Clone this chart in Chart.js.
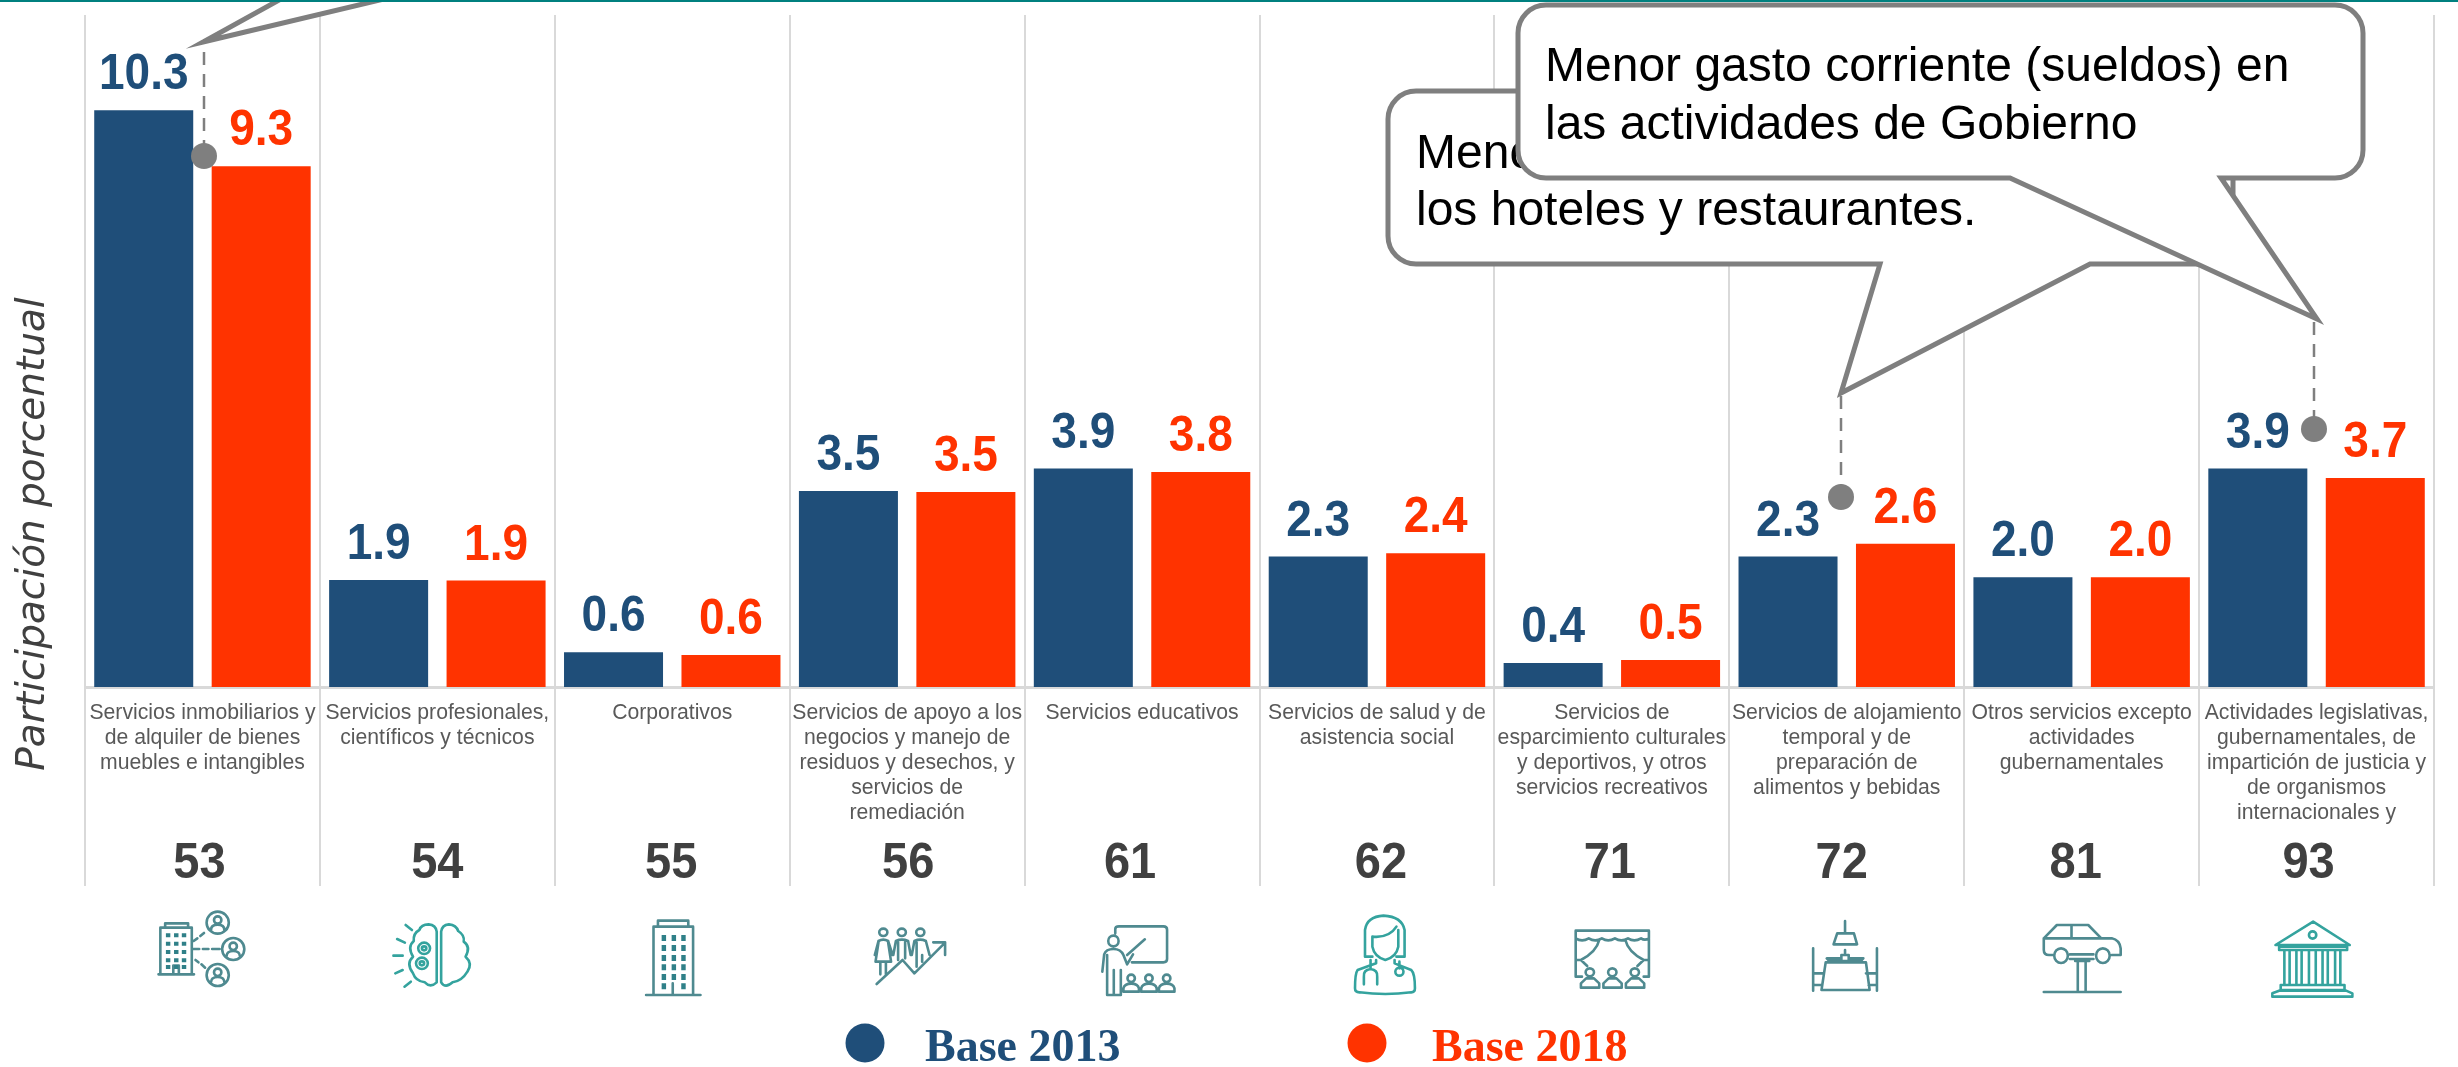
<!DOCTYPE html>
<html><head><meta charset="utf-8">
<style>html,body{margin:0;padding:0;background:#fff;overflow:hidden}#w{width:2458px;height:1067px}</style>
<script src="https://cdn.jsdelivr.net/npm/chart.js@4/dist/chart.umd.min.js"></script>
</head><body><div id="w"><canvas id="c"></canvas></div>
<script>
const categories = [
 ["Servicios inmobiliarios y","de alquiler de bienes","muebles e intangibles"],
 ["Servicios profesionales,","científicos y técnicos"],
 ["Corporativos"],
 ["Servicios de apoyo a los","negocios y manejo de","residuos y desechos, y","servicios de","remediación"],
 ["Servicios educativos"],
 ["Servicios de salud y de","asistencia social"],
 ["Servicios de","esparcimiento culturales","y deportivos, y otros","servicios recreativos"],
 ["Servicios de alojamiento","temporal y de","preparación de","alimentos y bebidas"],
 ["Otros servicios excepto","actividades","gubernamentales"],
 ["Actividades legislativas,","gubernamentales, de","impartición de justicia y","de organismos","internacionales y"]
];
const codes = ["53","54","55","56","61","62","71","72","81","93"];
const base2013 = [10.3,1.91,0.62,3.5,3.9,2.33,0.43,2.33,1.96,3.9];
const base2018 = [9.3,1.9,0.57,3.48,3.84,2.39,0.48,2.56,1.96,3.73];
const seriesNames = ["Base 2013","Base 2018"];
const axisTitle = "Participación porcentual";
const NAVY="#1F4E79", RED="#FF3300", GREY="#7F7F7F";

const codeNudge=[-3,0,-1,1,-12,4,-2,-5,-6,-8];
const E=(x,y,a,b)=>`M${x-a} ${y}A${a} ${b} 0 1 0 ${x+a} ${y}A${a} ${b} 0 1 0 ${x-a} ${y}Z`;
const R=(x,y,w,h)=>`M${x} ${y}h${w}v${h}h${-w}Z`;
const person=(x,y)=>E(x,y-28,10,11)+`M${x-21} ${y+12}V${y+2}Q${x-18} ${y-12} ${x} ${y-12}Q${x+18} ${y-12} ${x+21} ${y+2}V${y+12}Z`;
const contact=(x,y)=>E(x,y,30,33)+E(x,y-8,10,11)+`M${x-18} ${y+22}Q${x-18} ${y+6} ${x} ${y+6}Q${x+18} ${y+6} ${x+18} ${y+22}`;
const seat=(x)=>E(x,202,8,12)+`M${x-17} 248V235L${x-7} 220H${x+8}L${x+18} 235V248Z`;
const win=(xs,ys,w,h)=>ys.map(y=>xs.map(x=>R(x,y,w,h)).join('')).join('');
const TEAL1="#4F8A90", TEAL2="#34A39E";
const icons=[
 {x:140,sx:2.703,c:TEAL1,p:"M55 205V68H140V205M68 68V55H130V68M50 208H146M90 205V182H105V205"+contact(210,53)+contact(252,132)+contact(210,210)+"M145 108L155 100M163 93L173 84M145 132H160M170 132H185M195 132H215M150 165L158 172M166 178L176 188",f:win([70,92,113],[85,110,135,160,180],12,12)},
 {x:140,sx:2.703,c:TEAL2,p:"M802 80Q800 60 780 58Q760 58 755 75Q738 85 740 108Q722 125 738 155Q718 175 738 205Q745 228 770 232Q785 250 802 232ZM814 80Q816 60 835 58Q855 60 860 78Q878 90 875 110Q895 125 880 155Q900 175 885 200Q870 228 845 232Q825 252 814 232Z"+E(768,130,16,17)+E(768,130,6,6)+E(762,175,16,17)+E(762,175,6,6)+"M718 60L735 75M695 102L716 113M685 152H710M690 205L710 195M715 245L732 230"},
 {x:140,sx:2.703,c:TEAL1,p:"M1388 268V65H1495V268M1400 65V47H1482V65M1368 270H1515M1440 270V235",f:win([1410,1437,1463],[90,120,150,178,207],12,18)+R(1410,235,12,18)+R(1463,235,12,18)},
 {x:860,sx:2.703,c:TEAL1,p:E(63,82,11,11)+E(113,82,11,11)+E(163,82,11,11)+"M40 150L50 108Q63 100 76 108L88 150M50 112L42 170H84L76 112M55 170V208M70 170V208M90 150L97 108Q113 100 130 108L137 150M103 112V165M122 112V160M140 150L147 108Q163 100 178 108L188 150M153 112V185M168 150V170M45 237L115 165L147 205L228 115M198 112H230V150"},
 {x:860,sx:2.703,c:TEAL1,p:E(685,108,14,16)+"M655 200L660 148Q665 132 685 132Q705 132 712 150L722 178M668 150V270H705V195M686 195V270M690 85V72Q690 64 700 64H820Q830 64 830 74V162Q830 172 820 172H735M722 150L770 103M722 178L738 148"+person(733,248)+person(781,248)+person(829,248)},
 {x:860,sx:2.703,c:TEAL2,p:"M1365 155V75Q1370 35 1415 32Q1465 35 1472 75V155H1450M1365 155H1385M1385 95V125Q1390 155 1420 165Q1450 155 1455 125V75M1385 95Q1430 100 1450 65M1395 165V175L1345 195Q1338 205 1338 250Q1338 262 1350 262Q1420 272 1490 262Q1500 262 1500 250Q1500 205 1490 195L1445 175V165M1380 165V192Q1360 195 1362 215V238M1380 192Q1400 195 1398 215V238M1458 170V190"+E(1458,200,11,12)},
 {x:1560,sx:1.912,c:TEAL1,p:"M30 215V77H170V215H160M30 215H42M30 100Q42 112 55 100Q67 112 80 100Q92 112 105 100Q117 112 130 100Q142 112 155 100Q162 108 170 100M75 105Q70 140 40 165H30M125 105Q130 140 160 165H170M40 165L52 183M160 165L148 183"+seat(57)+seat(100)+seat(143)},
 {x:1560,sx:1.912,c:TEAL1,p:"M545 48V82M530 85H562L568 118H523ZM538 150H552V168H538ZM545 135V145M510 160H538L535 168H515ZM552 160H580L575 168H557ZM508 172H585L592 255H500ZM484 130V257M487 205H505M487 240H500M606 130V257M585 205H603M590 240H605"},
 {x:1560,sx:1.912,c:TEAL1,p:"M945 150H935Q925 150 925 135V100L950 60H1010L1035 100H1055Q1070 105 1072 130V150H1055M925 100H1035M978 60V100"+E(958,152,13,22)+E(1038,152,13,22)+"M975 148H1020M975 162H1020M990 168V260M1005 168V260M985 168H1012M925 261H1072"},
 {x:1560,sx:1.912,c:TEAL2,p:"M1440 50L1510 120H1368Z"+E(1439,90,7,11)+"M1375 125H1505V135H1375ZM1385 138V238M1395 138V238M1408 138V238M1418 138V238M1432 138V238M1445 138V238M1458 138V238M1468 138V238M1482 138V238M1492 138V238M1378 240H1500V255H1378ZM1362 275V265L1375 257H1503L1515 265V275Z"}
];

function tall(ctx,t,x,y,k){ctx.save();ctx.translate(x,y);ctx.scale(1,k);ctx.fillText(t,0,0);ctx.restore();}
function bubble(ctx,x,y,w,h,r,a,tip,b){
 ctx.beginPath();
 ctx.moveTo(x+r,y);ctx.lineTo(x+w-r,y);ctx.arcTo(x+w,y,x+w,y+r,r);
 ctx.lineTo(x+w,y+h-r);ctx.arcTo(x+w,y+h,x+w-r,y+h,r);
 ctx.lineTo(b,y+h);ctx.lineTo(tip[0],tip[1]);ctx.lineTo(a,y+h);
 ctx.lineTo(x+r,y+h);ctx.arcTo(x,y+h,x,y+h-r,r);ctx.lineTo(x,y+r);ctx.arcTo(x,y,x+r,y,r);ctx.closePath();
 ctx.fillStyle="#fff";ctx.fill();ctx.strokeStyle=GREY;ctx.lineWidth=5;ctx.lineJoin="miter";ctx.miterLimit=12;ctx.stroke();
}
function leader(ctx,x,y0,y1){
 ctx.save();ctx.strokeStyle=GREY;ctx.lineWidth=2.5;ctx.setLineDash([13,9]);
 ctx.beginPath();ctx.moveTo(x,y0);ctx.lineTo(x,y1);ctx.stroke();ctx.setLineDash([]);
 ctx.fillStyle=GREY;ctx.beginPath();ctx.arc(x,y1,13,0,7);ctx.fill();ctx.restore();
}
const extras={id:"extras",afterDatasetsDraw(chart){
 const ctx=chart.ctx,sx=chart.scales.x;
 ctx.save();
 // value labels
 ctx.textAlign="center";ctx.textBaseline="alphabetic";ctx.font="bold 46px 'Liberation Sans'";
 chart.data.datasets.forEach((d,i)=>{
  ctx.fillStyle=d.backgroundColor;
  chart.getDatasetMeta(i).data.forEach((b,j)=>tall(ctx,d.data[j].toFixed(1),b.x,b.y-21,1.07));
 });
 // sector codes
 ctx.fillStyle="#404040";ctx.font="bold 47px 'Liberation Sans'";
 codes.forEach((t,i)=>tall(ctx,t,sx.getPixelForValue(i)+codeNudge[i],878,1.05));
 // icons
 ctx.lineWidth=2.6;ctx.lineJoin="round";ctx.lineCap="round";
 icons.forEach(ic=>{
  const m=new DOMMatrix([1/ic.sx,0,0,1/3,ic.x,905]);
  const p=new Path2D();p.addPath(new Path2D(ic.p),m);
  ctx.strokeStyle=ic.c;ctx.stroke(p);
  if(ic.f){const q=new Path2D();q.addPath(new Path2D(ic.f),m);ctx.fillStyle="#2F8088";ctx.fill(q);}
 });
 ctx.lineCap="butt";
 // axis title
 ctx.save();ctx.translate(34,534);ctx.rotate(-Math.PI/2);ctx.textAlign="center";ctx.textBaseline="middle";
 ctx.fillStyle="#404040";ctx.font="italic 39px 'DejaVu Sans'";ctx.fillText(axisTitle,0,0);ctx.restore();
 // legend
 const lg=[[865,925],[1367,1432]];
 chart.data.datasets.forEach((d,i)=>{
  ctx.fillStyle=d.backgroundColor;ctx.beginPath();ctx.arc(lg[i][0],1043,19.5,0,7);ctx.fill();
  ctx.textAlign="left";ctx.font="bold 46px 'Liberation Serif'";ctx.fillText(d.label,lg[i][1],1061);
 });
 // callouts
 ctx.beginPath();ctx.moveTo(290,-6);ctx.lineTo(203,42);ctx.lineTo(405,-6);
 ctx.fillStyle="#fff";ctx.fill();ctx.strokeStyle=GREY;ctx.lineWidth=5;ctx.lineJoin="miter";ctx.miterLimit=12;ctx.stroke();
 leader(ctx,204,52,156);
 bubble(ctx,1388,91,845,173,28,1880,[1841,393],2090);
 leader(ctx,1841,396,497);
 ctx.fillStyle="#000";ctx.textAlign="left";ctx.font="48px 'Liberation Sans'";
 ctx.fillText("Menor",1416,168);ctx.fillText("los hoteles y restaurantes.",1416,225);
 bubble(ctx,1518,5,845,173,28,2010,[2317,319],2221);
 leader(ctx,2314,322,429);
 ctx.fillStyle="#000";
 ctx.fillText("Menor gasto corriente (sueldos) en",1545,81);ctx.fillText("las actividades de Gobierno",1545,139);
 // top rule
 ctx.fillStyle="#00807F";ctx.fillRect(0,0,2458,2);
 ctx.restore();
}};
new Chart(document.getElementById("c"),{
 type:"bar",
 data:{labels:categories,datasets:[
  {label:seriesNames[0],data:base2013,backgroundColor:NAVY},
  {label:seriesNames[1],data:base2018,backgroundColor:RED}
 ]},
 options:{responsive:true,maintainAspectRatio:false,animation:false,
  layout:{padding:{left:85,right:24,top:15,bottom:0}},
  datasets:{bar:{barPercentage:0.843,categoryPercentage:1}},
  plugins:{legend:{display:false},tooltip:{enabled:false}},
  scales:{
   x:{grid:{color:"#D9D9D9",lineWidth:2,tickLength:199,drawOnChartArea:true},
      border:{color:"#D9D9D9",width:3},
      afterFit(s){s.height=380;},
      ticks:{autoSkip:false,maxRotation:0,minRotation:0,padding:-185,color:"#595959",
        font:{family:"'Liberation Sans'",size:21.2,lineHeight:1.18}}},
   y:{display:false,min:0,max:12}
  }},
 plugins:[extras]
});
</script></body></html>
